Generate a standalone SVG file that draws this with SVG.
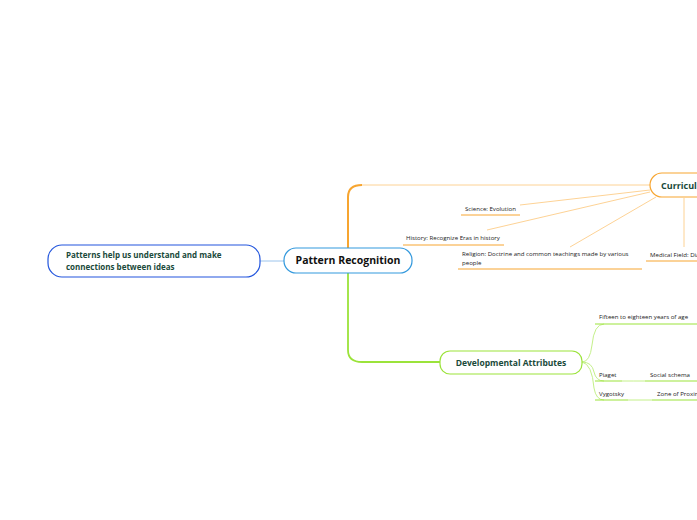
<svg xmlns="http://www.w3.org/2000/svg" width="697" height="520" viewBox="0 0 697 520">
<style>
text{font-family:"Open Sans","DejaVu Sans",sans-serif;fill:#222}
.b{font-weight:bold;fill:#1a4a3a}
.s{font-size:6.1px}
.o{stroke:#f7a530;fill:none}
.ot{stroke:#fcc77a;fill:none;stroke-width:0.8}
.g{stroke:#9be33a;fill:none}
.gt{stroke:#c4f08a;fill:none;stroke-width:1}
</style>
<rect width="697" height="520" fill="#fff"/>
<g id="connectors">
<line x1="260" y1="261" x2="284" y2="261" stroke="#9cc4ec" stroke-width="1"/>
<path class="o" d="M348 248 V197 Q348 185 362 185" stroke-width="2"/>
<path class="ot" d="M362 185 H650"/>
<path class="ot" d="M650 190 L520 205 M650 192 L487 230 M656 197 L570 247 M684 198 V247"/>
<path class="g" d="M348 273 V350 Q348 362 362 362 H440" stroke-width="1.8"/>
<path class="gt" d="M582 362 Q590 362 592 345 Q594 324 604 324 M582 362 Q592 362 594 372 Q596 381 604 381 M582 362 Q592 364 594 388 Q596 400 604 400 M622 381 Q634 381 645 381 M628 400 H652"/>
</g>
<g id="n-patterns"><rect x="48" y="245" width="212" height="32" rx="14" fill="#fff" stroke="#2255dd" stroke-width="1.2"/>
<text class="b" x="66" y="258" font-size="8">Patterns help us understand and make</text>
<text class="b" x="66" y="270" font-size="8">connections between ideas</text></g>
<g id="n-central"><rect x="284" y="248" width="128" height="25" rx="12" fill="#fff" stroke="#3399dd" stroke-width="1.2"/>
<text class="b" x="348" y="264" font-size="10.5" text-anchor="middle" style="fill:#111">Pattern Recognition</text></g>
<g id="n-curr"><rect x="650" y="173" width="80" height="24" rx="12" fill="#fff" stroke="#f7a530" stroke-width="1.2"/>
<text class="b" x="661" y="189" font-size="9">Curriculum</text></g>
<g id="n-sci"><text class="s" x="465" y="211">Science: Evolution</text><line class="o" x1="461" y1="215" x2="520" y2="215"/></g>
<g id="n-hist"><text class="s" x="406" y="240">History: Recognize Eras in history</text><line class="o" x1="403" y1="245" x2="504" y2="245"/></g>
<g id="n-rel"><text class="s" x="462" y="256">Religion: Doctrine and common teachings made by various</text><text class="s" x="462" y="265">people</text><line class="o" x1="458" y1="269" x2="642" y2="269"/></g>
<g id="n-med"><text class="s" x="650" y="257">Medical Field: Diagnosis</text><line class="o" x1="646" y1="261" x2="697" y2="261"/></g>
<g id="n-dev"><rect x="440" y="351" width="142" height="23" rx="10" fill="#fff" stroke="#9be33a" stroke-width="1.2"/>
<text class="b" x="511" y="366" font-size="8.5" text-anchor="middle">Developmental Attributes</text></g>
<g id="n-15"><text class="s" x="599" y="319">Fifteen to eighteen years of age</text><line class="g" x1="595" y1="324" x2="697" y2="324"/></g>
<g id="n-piaget"><text class="s" x="599" y="377">Piaget</text><line class="g" x1="595" y1="381" x2="622" y2="381"/></g>
<g id="n-social"><text class="s" x="650" y="377">Social schema</text><line class="g" x1="645" y1="381" x2="697" y2="381"/></g>
<g id="n-vyg"><text class="s" x="599" y="396">Vygotsky</text><line class="g" x1="595" y1="400" x2="628" y2="400"/></g>
<g id="n-zone"><text class="s" x="657" y="396">Zone of Proximal Development</text><line class="g" x1="652" y1="400" x2="697" y2="400"/></g>
</svg>
